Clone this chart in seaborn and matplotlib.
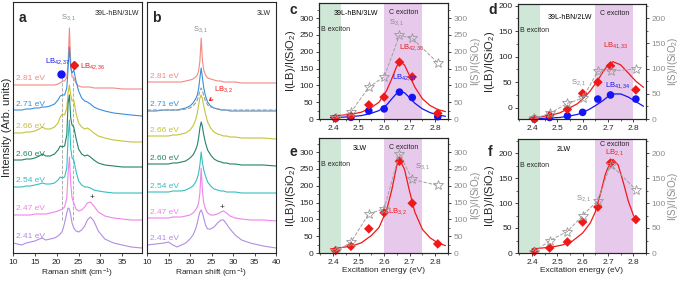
import matplotlib
matplotlib.use("Agg")
import matplotlib.pyplot as plt
from matplotlib.ticker import MultipleLocator
import seaborn as sns

sns.set_style("ticks")
plt.rcParams['font.family'] = ['Liberation Sans', 'DejaVu Sans']
plt.rcParams['mathtext.fontset'] = 'custom'
plt.rcParams['mathtext.rm'] = 'Liberation Sans'
plt.rcParams['mathtext.default'] = 'regular'
plt.rcParams['axes.linewidth'] = 0.8

#%% data -------------------------------------------------------------
ev_labels = ["2.81 eV", "2.71 eV", "2.66 eV", "2.60 eV", "2.54 eV", "2.47 eV", "2.41 eV"]
ev_colors = ["#f08a84", "#3b8fdb", "#c4c43a", "#23836a", "#36bfc0", "#ee84ec", "#b48ce3"]

# panel a: 39L-hBN/3LW spectra (offset, arb. units)
raman_a = [10, 11, 12, 13, 14, 15, 16, 16.7, 17.5, 18.5, 19.5, 20.3, 20.8, 21.3, 21.8, 22.3, 22.6,
           22.9, 23.2, 23.5, 23.9, 24.4, 25, 25.7, 26.4, 27, 27.7, 28.5, 29.5, 31, 33, 35, 37, 39.5]
a_281 = [168, 168, 168, 168, 168, 168, 168, 168, 168, 168, 168, 169, 170, 172, 172, 176, 190,
         225, 190, 176, 175, 170, 167, 166, 166, 166, 166, 165, 165, 165, 165, 164, 164, 164]
a_271 = [143, 143, 143, 144, 144, 145, 145, 146, 146, 147, 149, 153, 157, 158, 158, 165, 185,
         206, 185, 180, 183, 172, 162, 155, 152, 151, 149, 146, 144, 142, 140, 139, 138, 137]
a_266 = [120, 120, 120, 121, 121, 122, 124, 126, 124, 124, 126, 130, 136, 139, 138, 145, 160,
         168, 158, 152, 153, 140, 130, 126, 124, 125, 123, 120, 117, 115, 113, 112, 111, 111]
a_260 = [93, 93, 93, 94, 94, 95, 97, 99, 97, 97, 99, 103, 107, 106, 107, 118, 150,
         158, 135, 128, 126, 115, 104, 99, 97, 98, 96, 93, 90, 88, 87, 86, 86, 86]
a_254 = [66, 66, 66, 67, 67, 68, 69, 70, 69, 69, 70, 73, 76, 75, 76, 85, 115,
         133, 105, 95, 93, 82, 72, 68, 66, 66, 65, 63, 62, 61, 60, 60, 60, 60]
a_247 = [38, 38, 38, 38, 38, 39, 39, 39, 39, 40, 41, 42, 43, 44, 46, 55, 80,
         96, 70, 55, 50, 44, 42, 43, 46, 50, 51, 47, 41, 37, 35, 34, 33, 33]
a_241 = [10, 9, 8, 10, 11, 12, 14, 15, 13, 14, 15, 17, 19, 22, 30, 40, 45,
         44, 38, 30, 25, 22, 21, 23, 27, 33, 36, 32, 22, 14, 10, 8, 6, 5]
spec_a = [a_281, a_271, a_266, a_260, a_254, a_247, a_241]

# panel b: 3LW spectra
raman_b = [10, 12, 14, 15, 16, 17, 18, 19, 20, 20.7, 21.3, 21.7, 22.0, 22.3, 22.6, 22.9, 23.2,
           23.6, 24.1, 24.8, 25.6, 26.4, 27.2, 27.8, 28.5, 29.3, 30.5, 32, 34, 37, 40]
b_281 = [171, 171, 171, 171, 171, 171, 171, 172, 173, 174, 176, 178, 182, 192, 215, 192, 183,
         178, 175, 174, 173, 172, 172, 171, 171, 171, 171, 170, 170, 170, 170]
b_271 = [142, 142, 143, 143, 143, 143, 144, 145, 147, 150, 154, 158, 164, 175, 185, 175, 165,
         157, 151, 147, 145, 144, 143, 143, 143, 142, 142, 142, 142, 142, 142]
b_266 = [117, 117, 117, 117, 118, 118, 119, 120, 123, 127, 133, 140, 148, 155, 158, 154, 147,
         139, 131, 125, 121, 119, 118, 117, 117, 116, 116, 115, 115, 115, 114]
b_260 = [89, 89, 89, 89, 90, 90, 91, 92, 95, 98, 103, 108, 115, 125, 131, 126, 118,
         110, 103, 98, 94, 92, 91, 90, 90, 89, 89, 88, 88, 88, 87]
b_254 = [61, 61, 61, 61, 62, 62, 62, 63, 65, 67, 71, 75, 80, 88, 101, 90, 83,
         77, 71, 67, 64, 63, 62, 62, 61, 61, 61, 60, 60, 60, 60]
b_247 = [35, 35, 35, 35, 36, 36, 36, 37, 38, 40, 43, 46, 50, 60, 85, 62, 50,
         44, 40, 38, 38, 39, 41, 42, 40, 37, 35, 34, 33, 33, 32]
b_241 = [8, 9, 10, 11, 8, 6, 8, 10, 14, 18, 24, 30, 36, 41, 43, 40, 35,
         28, 24, 24, 26, 30, 33, 33, 29, 24, 18, 13, 10, 7, 5]
spec_b = [b_281, b_271, b_266, b_260, b_254, b_247, b_241]
b_271_fit = [143, 143, 143, 143, 143, 143, 143, 144, 145, 147, 150, 153, 157, 162, 165, 162, 157,
             152, 148, 146, 145, 144, 144, 143, 143, 143, 143, 143, 143, 143, 143]

# panels c-f: intensity ratios vs excitation energy
energy = [2.41, 2.47, 2.54, 2.60, 2.66, 2.71, 2.81]
c_lb4237 = [2, 5, 24, 30, 80, 64, 7]
c_lb4236 = [2, 9, 42, 65, 169, 125, 17]
c_s31 = [3, 20, 95, 125, 249, 240, 167]
d_lb4134 = [-22, -19, -16, -9, 17, 25, 17]
d_lb4133 = [-22, -15, -3, 28, 50, 82, 35]
d_s21 = [1, 11, 31, 41, 95, 95, 99]
e_lb32 = [7, 20, 72, 120, 273, 148, 27]
e_s31 = [5, 32, 117, 131, 295, 219, 201]
f_lb21 = [3, 10, 22, 62, 92, 180, 67]
f_s21 = [2, 25, 43, 75, 105, 177, 127]

# fitted curves
fit_e = [2.39, 2.43, 2.47, 2.51, 2.55, 2.58, 2.61, 2.63, 2.65, 2.665, 2.68, 2.70, 2.72, 2.75,
         2.78, 2.81, 2.84]
c_fit_blue = [4, 5, 7, 10, 17, 25, 42, 60, 77, 82, 78, 63, 47, 30, 19, 12, 8]
c_fit_red = [9, 11, 14, 20, 34, 50, 85, 120, 158, 170, 160, 128, 95, 60, 40, 28, 22]
d_fit_blue = [-22, -21, -20, -19, -16, -13, -7, -2, 4, 9, 14, 22, 27, 27, 21, 12, 3]
d_fit_red = [-20, -18, -15, -10, 0, 8, 22, 33, 47, 58, 70, 84, 90, 84, 68, 52, 40]
e_fit_red = [12, 16, 20, 30, 52, 76, 128, 188, 262, 272, 248, 182, 122, 70, 45, 30, 22]
fit_f = [2.40, 2.44, 2.48, 2.52, 2.56, 2.60, 2.63, 2.65, 2.67, 2.69, 2.71, 2.72, 2.74, 2.76,
         2.78, 2.80, 2.81]
f_fit_red = [8, 10, 12, 16, 24, 40, 60, 82, 118, 158, 183, 187, 176, 142, 104, 76, 66]

#%% figure ------------------------------------------------------------
W, H = 681, 282
fig = plt.figure(figsize=(W / 100, H / 100), dpi=100)


def add_ax(x0, y0, x1, y1):
    return fig.add_axes([x0 / W, 1 - y1 / H, (x1 - x0) / W, (y1 - y0) / H])


FS = 6          # tick labels
FL = 6          # x labels
FY = 8          # y labels
BLUE, RED, GREY = "#1414f5", "#f01818", "#a0a0a0"

# ---- spectra panels
axa = add_ax(13, 2, 142, 253)
axb = add_ax(147, 2, 276, 253)
for ax, xs, specs, xmax, xt in [(axa, raman_a, spec_a, 39.5, range(10, 40, 5)),
                                (axb, raman_b, spec_b, 40, range(10, 41, 5))]:
    for ys, col, lab in zip(specs, ev_colors, ev_labels):
        sns.lineplot(x=xs, y=ys, ax=ax, color=col, lw=0.8, sort=False, estimator=None)
        ax.text(10.6, ys[0] + 6, lab, color=col, fontsize=6, va='center', ha='left')
    ax.set_xlim(10, xmax)
    ax.set_ylim(0, 251)
    ax.set_yticks([])
    ax.set_xticks(list(xt))
    ax.tick_params(labelsize=FS, length=2.5, width=0.6, pad=1.5)
    ax.set_xlabel("Raman shift (cm$^{-1}$)", fontsize=FL, labelpad=1)
axa.set_ylabel("Intensity (Arb. units)", fontsize=FY, labelpad=1)

sns.lineplot(x=raman_b, y=b_271_fit, ax=axb, color="#9a9a9a", lw=0.8, ls='--', sort=False,
             estimator=None)

# annotations a
for xv in [21.2, 23.8]:
    axa.plot([xv, xv], [33, 178], color="#b0b0b0", lw=0.7, ls='--', zorder=0)
axa.plot([21.0], [179], 'o', color=BLUE, ms=5)
axa.plot([24.0], [188], 'D', color=RED, ms=4.5)
axa.text(22.8, 234, "S$_{3,1}$", color="#888888", fontsize=5.5, ha='center')
axa.text(20.2, 190, "LB$_{42,37}$", color=BLUE, fontsize=5.5, ha='center')
axa.text(25.3, 185, "LB$_{42,36}$", color=RED, fontsize=5.5, ha='left')
axa.text(38.8, 238, "39L-hBN/3LW", fontsize=5, ha='right')
axa.text(28.0, 55, "+", fontsize=6, ha='center', va='center')
axa.text(0.04, 0.965, "a", transform=axa.transAxes, fontsize=10, fontweight='bold', va='top')

# annotations b
axb.text(22.6, 222, "S$_{3,1}$", color="#888888", fontsize=5.5, ha='center')
axb.text(38.8, 238, "3LW", fontsize=5, ha='right')
axb.annotate("LB$_{3,2}$", xy=(23.8, 150), xytext=(25.6, 162), color=RED, fontsize=5.5,
             arrowprops=dict(arrowstyle='->', color=RED, lw=0.8))
axb.text(27.5, 45, "+", fontsize=6, ha='center', va='center')
axb.text(0.04, 0.965, "b", transform=axb.transAxes, fontsize=10, fontweight='bold', va='top')

# ---- ratio panels
panels = [
    dict(l="c", ly=10, rect=(319, 3, 448, 119), yl=(0, 345), yr=(0, 345), yt=range(0, 301, 50),
         cb=(2.60, 2.75), cy=0.92, pts=[(c_lb4237, 'o', BLUE), (c_lb4236, 'D', RED)],
         fits=[(fit_e, c_fit_blue, BLUE), (fit_e, c_fit_red, RED)], stars=c_s31,
         txt=[(2.49, 0.91, "39L-hBN/3LW", 'black', 'ax'),
              (2.62, 272, "S$_{3,1}$", "#888888", 'r'),
              (2.66, 196, "LB$_{42,36}$", RED, 'l'),
              (2.63, 106, "LB$_{42,37}$", BLUE, 'l')], xlab=False),
    dict(l="d", ly=10, rect=(518, 4, 646, 119), yl=(-22, 203), yr=(0, 228), yt=range(0, 201, 50),
         cb=(2.65, 2.80), cy=0.92, pts=[(d_lb4134, 'o', BLUE), (d_lb4133, 'D', RED)],
         fits=[(fit_e, d_fit_blue, BLUE), (fit_e, d_fit_red, RED)], stars=d_s21,
         txt=[(2.55, 0.88, "39L-hBN/2LW", 'black', 'ax'),
              (2.555, 38, "S$_{2,1}$", "#888888", 'l'),
              (2.68, 111, "LB$_{41,33}$", RED, 'l'),
              (2.69, 33, "LB$_{41,34}$", BLUE, 'l')], xlab=False),
    dict(l="e", ly=152, rect=(319, 138, 448, 253), yl=(0, 342), yr=(0, 342), yt=range(0, 301, 50),
         cb=(2.60, 2.75), cy=0.92, pts=[(e_lb32, 'D', RED)],
         fits=[(fit_e, e_fit_red, RED)], stars=e_s31,
         txt=[(2.505, 0.905, "3LW", 'black', 'ax'),
              (2.72, 240, "S$_{3,1}$", "#888888", 'l'),
              (2.615, 106, "LB$_{3,2}$", RED, 'l')], xlab=True),
    dict(l="f", ly=152, rect=(518, 139, 646, 253), yl=(0, 228), yr=(0, 228), yt=range(0, 201, 50),
         cb=(2.65, 2.80), cy=0.955, pts=[(f_lb21, 'D', RED)],
         fits=[(fit_f, f_fit_red, RED)], stars=f_s21,
         txt=[(2.527, 0.91, "2LW", 'black', 'ax'),
              (2.575, 97, "S$_{2,1}$", "#888888", 'l'),
              (2.69, 190, "LB$_{2,1}$", RED, 'l')], xlab=True),
]

for p in panels:
    ax = add_ax(*p["rect"])
    axr = ax.twinx()
    ax.set_xlim(2.345, 2.85)
    ax.set_ylim(*p["yl"])
    axr.set_ylim(*p["yr"])
    ax.axvspan(2.3, 2.43, color="#cfe7d6", lw=0, zorder=0)
    ax.axvspan(*p["cb"], color="#e7c9ec", lw=0, zorder=0)
    for xs, ys, col in p["fits"]:
        sns.lineplot(x=xs, y=ys, ax=ax, color=col, lw=0.9, sort=False, estimator=None)
    for ys, mk, col in p["pts"]:
        sns.scatterplot(x=energy, y=ys, ax=ax, marker=mk, color=col, s=30 if mk == 'o' else 24,
                        edgecolor='none', zorder=3, clip_on=False)
    sns.lineplot(x=energy, y=p["stars"], ax=axr, color=GREY, lw=0.7, ls='--', marker='*',
                 markersize=7, markerfacecolor='none', markeredgecolor="#9a9a9a",
                 markeredgewidth=0.6, sort=False, estimator=None)
    for tx, ty, s, col, mode in p["txt"]:
        if mode == 'ax':
            ax.text(tx, ty, s, fontsize=5, color=col, ha='center', va='center',
                    transform=ax.get_xaxis_transform())
        else:
            ax.text(tx, ty, s, fontsize=5.5, color=col, ha='left', va='bottom')
    ax.text(2.352, 0.77, "B exciton", fontsize=5, transform=ax.get_xaxis_transform(),
            va='center')
    ax.text(sum(p["cb"]) / 2, p["cy"], "C exciton", fontsize=5,
            transform=ax.get_xaxis_transform(), ha='center', va='center')
    ax.set_xticks([2.4, 2.5, 2.6, 2.7, 2.8])
    ax.xaxis.set_minor_locator(MultipleLocator(0.05))
    ax.set_yticks(list(p["yt"]))
    axr.set_yticks(list(p["yt"]))
    ax.yaxis.set_minor_locator(MultipleLocator(25))
    axr.yaxis.set_minor_locator(MultipleLocator(25))
    ax.tick_params(labelsize=FS, length=2.5, width=0.6, pad=1.5)
    ax.tick_params(which='minor', length=1.5, width=0.5)
    axr.tick_params(labelsize=FS, length=2.5, width=0.6, pad=1.5, labelcolor="#8c8c8c")
    axr.tick_params(which='minor', length=1.5, width=0.5)
    ax.set_ylabel("I(LB)/I(SiO$_2$)", fontsize=FY, labelpad=1)
    axr.set_ylabel("I(S)/I(SiO$_2$)", fontsize=7, color="#8c8c8c")
    axr.yaxis.set_label_coords(1.16, 0.5)
    if p["xlab"]:
        ax.set_xlabel("Excitation energy (eV)", fontsize=FL, labelpad=1)
    x0 = p["rect"][0]
    fig.text((x0 - 30) / W, 1 - p["ly"] / H, p["l"], fontsize=10, fontweight='bold',
             va='center')

fig.savefig("out.png", dpi=100)
